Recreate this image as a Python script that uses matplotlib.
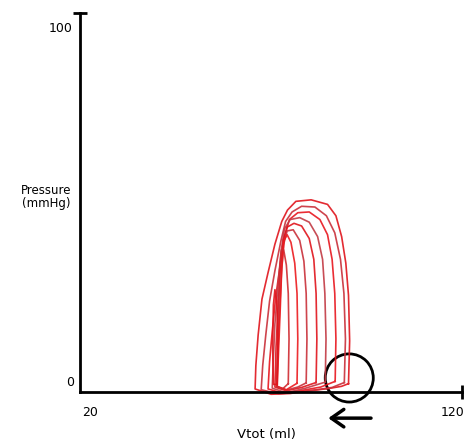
import matplotlib
matplotlib.use("Agg")
import matplotlib.pyplot as plt
from matplotlib.patches import Ellipse

# pressure-volume loops (volume in ml, pressure in mmHg)
loop1_v = [90.3, 90.6, 90.3, 89.6, 88.5, 87.0, 84.8, 80.5, 76.5, 74.3, 72.8, 71.0, 69.2, 67.6, 66.6, 66.0, 65.8, 70.0, 75.0, 80.0, 85.0, 88.5, 90.3]
loop1_p = [2.2, 13.5, 25.5, 34.0, 41.0, 46.5, 49.5, 50.7, 50.3, 48.0, 45.0, 39.0, 31.5, 24.5, 15.0, 7.0, 0.8, -0.6, -0.4, 0.3, 0.9, 1.5, 2.2]

loop2_v = [89.2, 89.5, 89.1, 88.2, 86.7, 84.5, 81.5, 78.0, 75.5, 73.8, 72.6, 71.0, 69.6, 68.6, 67.8, 67.4, 72.0, 77.0, 82.0, 86.0, 89.2]
loop2_p = [2.5, 14.0, 26.0, 35.0, 42.0, 46.5, 48.8, 49.0, 47.5, 45.0, 40.0, 32.0, 24.0, 15.0, 7.0, 0.6, -0.5, 0.0, 0.6, 1.2, 2.5]

loop3_v = [86.8, 87.0, 86.7, 86.0, 84.8, 82.8, 80.0, 77.0, 74.8, 73.5, 72.3, 71.2, 70.3, 69.6, 69.2, 73.0, 78.0, 83.0, 86.8]
loop3_p = [2.8, 14.0, 26.0, 35.0, 41.5, 45.5, 47.5, 47.3, 45.5, 41.0, 33.0, 25.0, 16.0, 8.0, 0.8, -0.3, 0.4, 1.3, 2.8]

loop4_v = [84.2, 84.4, 84.1, 83.5, 82.2, 80.0, 77.5, 75.0, 73.5, 72.6, 71.8, 71.0, 70.6, 70.3, 74.0, 79.0, 84.2]
loop4_p = [2.6, 14.0, 26.0, 35.0, 41.0, 44.8, 46.0, 45.5, 43.0, 37.0, 28.0, 18.0, 9.0, 1.0, -0.2, 1.0, 2.6]

loop5_v = [81.8, 82.0, 81.8, 81.2, 80.0, 78.0, 76.0, 74.2, 73.2, 72.4, 71.8, 71.3, 71.0, 74.0, 78.0, 81.8]
loop5_p = [2.5, 14.0, 26.0, 35.0, 40.5, 43.8, 44.5, 43.5, 40.0, 32.0, 22.0, 12.0, 1.3, 0.3, 1.2, 2.5]

loop6_v = [79.2, 79.4, 79.2, 78.6, 77.5, 75.8, 74.2, 73.3, 72.7, 72.2, 71.8, 71.5, 74.0, 77.0, 79.2]
loop6_p = [2.4, 14.0, 26.0, 34.5, 40.0, 42.8, 42.5, 39.0, 31.0, 21.0, 11.0, 1.4, 0.5, 1.3, 2.4]

loop7_v = [76.8, 77.0, 76.8, 76.2, 75.2, 74.2, 73.4, 72.8, 72.4, 72.0, 71.6, 74.0, 76.8]
loop7_p = [2.3, 14.0, 26.0, 34.0, 39.5, 41.5, 40.0, 33.0, 22.0, 12.0, 1.5, 0.6, 2.3]

loop8_v = [74.5, 74.7, 74.5, 74.0, 73.3, 72.7, 72.3, 72.0, 71.7, 71.4, 73.0, 74.5]
loop8_p = [2.2, 14.0, 26.0, 33.5, 37.5, 37.5, 33.0, 23.0, 12.0, 1.5, 0.8, 2.2]

loop9_v = [71.6, 71.8, 71.5, 71.0, 70.6, 70.4, 70.6, 71.6]
loop9_p = [2.0, 14.0, 24.0, 27.0, 23.0, 12.0, 2.0, 2.0]

loops = [(loop1_v, loop1_p), (loop2_v, loop2_p), (loop3_v, loop3_p),
         (loop4_v, loop4_p), (loop5_v, loop5_p), (loop6_v, loop6_p),
         (loop7_v, loop7_p), (loop8_v, loop8_p), (loop9_v, loop9_p)]
colors = ["#e0141c", "#c9303a", "#e8161e", "#c23a44", "#e0141c",
          "#c9303a", "#ec1a1e", "#d02a30", "#e0141c"]

fig = plt.figure(figsize=(4.69, 4.46), dpi=100)
ax = fig.add_axes([0.1716, 0.1211, 0.8129, 0.8498])
ax.set_xlim(20, 120)
ax.set_ylim(0, 100)

for (v, p), c in zip(loops, colors):
    ax.plot(v, p, color=c, lw=1.2, alpha=0.9, clip_on=False)

# axes look like the original: plain lines with end caps, no ticks
for s in ["top", "right"]:
    ax.spines[s].set_visible(False)
for s in ["left", "bottom"]:
    ax.spines[s].set_linewidth(2)
ax.set_xticks([])
ax.set_yticks([])
ax.plot([20], [100], marker="_", ms=10, mew=2, color="k", clip_on=False)
ax.plot([120], [0], marker="|", ms=10, mew=2, color="k", clip_on=False)

ax.text(14.9, 96, "100", ha="center", va="center", fontsize=9)
ax.text(17.2, 2.4, "0", ha="center", va="center", fontsize=9)
ax.text(22.6, -5.5, "20", ha="center", va="center", fontsize=9)
ax.text(117.5, -5.5, "120", ha="center", va="center", fontsize=9)
ax.text(11.1, 51.5, "Pressure\n(mmHg)", ha="center", va="center", fontsize=8.5, linespacing=1.0)
ax.text(68.7, -11.1, "Vtot (ml)", ha="center", va="center", fontsize=9.5)

ax.add_patch(Ellipse((90.5, 3.7), 12.6, 12.7, fill=False, lw=2, ec="k", clip_on=False))
ax.annotate("", xy=(85.0, -6.9), xytext=(96.2, -6.9), annotation_clip=False,
            arrowprops=dict(arrowstyle="->, head_length=0.5, head_width=0.35",
                            lw=2.5, color="k", mutation_scale=18, shrinkA=0, shrinkB=0))

plt.savefig("out.png", dpi=100)
